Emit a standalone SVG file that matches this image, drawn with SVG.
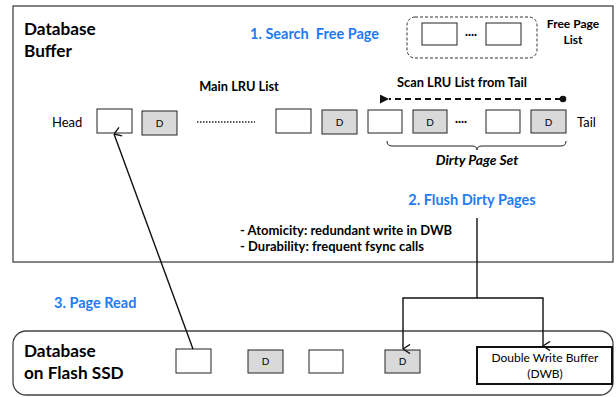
<svg xmlns="http://www.w3.org/2000/svg" width="616" height="397" viewBox="0 0 616 397">
  <defs>
    <style>
      text { font-family: Lato, "Open Sans", "Liberation Sans", sans-serif; fill: #000; }
      .title { font-size: 17.2px; font-weight: bold; }
      .step { font-size: 14.5px; font-weight: bold; fill: #1f7bf2; }
      .lbl { font-size: 12.8px; font-weight: bold; }
      .note { font-size: 13px; font-weight: bold; }
      .small { font-size: 12px; font-weight: bold; }
      .plain { font-size: 13px; }
      .dlbl { font-size: 10px; text-anchor: middle; }
      .page { fill: #fff; stroke: #222; stroke-width: 1; }
      .dirty { fill: #d9d9d9; stroke: #222; stroke-width: 1; }
      .frame { fill: #fff; stroke: #444; stroke-width: 1.3; }
      .wire { fill: none; stroke: #111; stroke-width: 1.4; }
    </style>
    <marker id="vhead" viewBox="0 0 10 10" refX="5" refY="10" markerWidth="10" markerHeight="10" markerUnits="userSpaceOnUse" orient="auto-start-reverse">
      <path d="M0.5,3 L5,10 L9.5,3" fill="none" stroke="#111" stroke-width="1.4"/>
    </marker>
    <marker id="vheadUp" viewBox="0 0 10 10" refX="5" refY="0" markerWidth="10" markerHeight="10" markerUnits="userSpaceOnUse" orient="auto">
      <path d="M0.5,7 L5,0 L9.5,7" fill="none" stroke="#111" stroke-width="1.4"/>
    </marker>
    <marker id="solidhead" viewBox="0 0 10 10" refX="0" refY="5" markerWidth="9" markerHeight="9" markerUnits="userSpaceOnUse" orient="auto">
      <path d="M0,5 L10,0 L10,10 Z" fill="#111"/>
    </marker>
  </defs>

  <!-- Database buffer frame -->
  <g id="buffer">
    <rect class="frame" x="13" y="6" width="600" height="256"/>
    <text class="title" x="24" y="35">Database</text>
    <text class="title" x="24" y="57">Buffer</text>
  </g>

  <g id="step1-label">
    <text class="step" x="250" y="39" xml:space="preserve">1. Search  Free Page</text>
  </g>

  <!-- Free page list -->
  <g id="free-page-list">
    <rect x="407" y="17" width="130" height="41" rx="8" fill="none" stroke="#333" stroke-width="1" stroke-dasharray="3,2"/>
    <rect class="page" x="422" y="23" width="35" height="22"/>
    <text x="465" y="38" style="font-size:11px;font-weight:bold">····</text>
    <rect class="page" x="486" y="23" width="35" height="22"/>
    <text class="small" x="573" y="28" text-anchor="middle">Free Page</text>
    <text class="small" x="573" y="44" text-anchor="middle">List</text>
  </g>

  <!-- Main LRU list -->
  <g id="lru-list">
    <text class="lbl" x="239" y="91" text-anchor="middle">Main LRU List</text>
    <text class="plain" x="52" y="127">Head</text>
    <rect class="page" x="97" y="109" width="35" height="24"/>
    <rect class="dirty" x="142" y="111" width="35" height="24"/>
    <text class="dlbl" x="159.5" y="127">D</text>
    <line x1="197" y1="122" x2="255" y2="122" stroke="#222" stroke-width="1.5" stroke-dasharray="1.5,1.5"/>
    <rect class="page" x="276" y="109" width="35" height="24"/>
    <rect class="dirty" x="322" y="110" width="35" height="24"/>
    <text class="dlbl" x="339.5" y="126">D</text>
    <rect class="page" x="368" y="110" width="34" height="23"/>
    <rect class="dirty" x="413" y="110" width="34" height="23"/>
    <text class="dlbl" x="430" y="126">D</text>
    <text x="455" y="125" style="font-size:11px;font-weight:bold">····</text>
    <rect class="page" x="486" y="110" width="34" height="23"/>
    <rect class="dirty" x="531" y="110" width="35" height="23"/>
    <text class="dlbl" x="548.5" y="126">D</text>
    <text class="plain" x="577" y="127">Tail</text>
  </g>

  <!-- Scan direction -->
  <g id="scan">
    <text class="lbl" x="462" y="87" text-anchor="middle">Scan LRU List from Tail</text>
    <line x1="561" y1="99" x2="389" y2="99" stroke="#111" stroke-width="1.8" stroke-dasharray="6,4" marker-end="url(#solidhead)"/>
    <circle cx="563" cy="99" r="3.3" fill="#111"/>
  </g>

  <!-- Dirty page set brace -->
  <g id="dirty-set">
    <path d="M387,141 Q387,146 392,146 L472,146 Q477,146 477,150 Q477,146 482,146 L561,146 Q566,146 566,141" fill="none" stroke="#222" stroke-width="1"/>
    <text class="lbl" x="477" y="165" text-anchor="middle" font-style="italic" style="font-size:13.8px">Dirty Page Set</text>
  </g>

  <g id="step2-label">
    <text class="step" x="472" y="205" text-anchor="middle">2. Flush Dirty Pages</text>
  </g>

  <g id="notes">
    <text class="note" x="240" y="235">- Atomicity: redundant write in DWB</text>
    <text class="note" x="240" y="251">- Durability: frequent fsync calls</text>
  </g>

  <g id="step3-label">
    <text class="step" x="54" y="308">3. Page Read</text>
  </g>

  <!-- Database on flash SSD -->
  <g id="ssd">
    <rect class="frame" x="13" y="331" width="600" height="64" rx="13"/>
    <text class="title" x="24" y="357">Database</text>
    <text class="title" x="24" y="379">on Flash SSD</text>
    <rect class="page" x="176" y="349" width="35" height="24"/>
    <rect class="dirty" x="248" y="350" width="35" height="23"/>
    <text class="dlbl" x="265.5" y="365">D</text>
    <rect class="page" x="309" y="350" width="34" height="23"/>
    <rect class="dirty" x="385" y="350" width="35" height="23"/>
    <text class="dlbl" x="402.5" y="365">D</text>
  </g>

  <g id="dwb">
    <rect x="477" y="347" width="135" height="37" fill="#fff" stroke="#111" stroke-width="2"/>
    <text x="545" y="362" text-anchor="middle" style="font-size:12px">Double Write Buffer</text>
    <text x="545" y="378" text-anchor="middle" style="font-size:12px">(DWB)</text>
  </g>

  <!-- Connectors -->
  <g id="connectors">
    <polyline class="wire" points="477,218 477,298 403,298 403,349" marker-end="url(#vhead)"/>
    <polyline class="wire" points="477,298 543,298 543,346" marker-end="url(#vhead)"/>
    <line class="wire" x1="193" y1="349" x2="114" y2="134" stroke-width="1.2" marker-end="url(#vheadUp)"/>
  </g>
</svg>
